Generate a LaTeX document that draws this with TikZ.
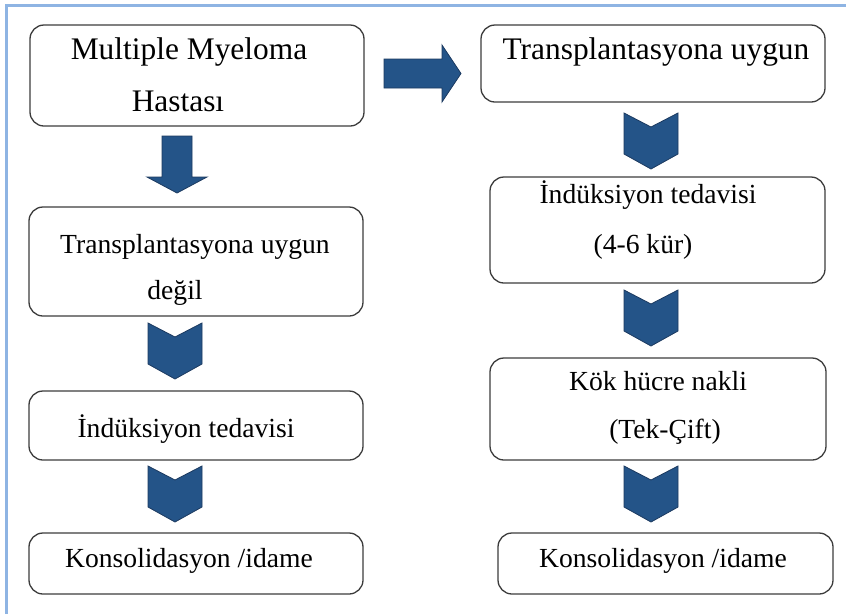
\documentclass[tikz,border=0pt]{standalone}
\usepackage{fontspec}
\setmainfont{Liberation Serif}
\definecolor{arrowblue}{RGB}{36,84,136}
\definecolor{arrowedge}{RGB}{28,58,96}
\definecolor{boxgray}{RGB}{60,60,60}
\definecolor{frameblue}{RGB}{142,180,227}
\newcommand\mychev[2]{%
  \draw[blockarrow] (#1-27,#2) -- (#1,#2+14) -- (#1+27,#2) -- (#1+27,#2+41)
    -- (#1,#2+56) -- (#1-27,#2+41) -- cycle;}
\begin{document}
\begin{tikzpicture}[x=1pt,y=-1pt,
  box/.style={draw=boxgray, line width=1.3pt, rounded corners=14pt, fill=white, inner sep=0pt},
  txt/.style={anchor=base, inner sep=0pt, font=\fontsize{27.6}{33}\selectfont},
  big/.style={anchor=base, inner sep=0pt, font=\fontsize{31.4}{37}\selectfont},
  blockarrow/.style={fill=arrowblue, draw=arrowedge, line width=0.8pt, line join=miter}]
\useasboundingbox (0,0) rectangle (846,614);
\fill[white] (0,0) rectangle (846,614);
% frame
\draw[frameblue, line width=3pt] (6,614) -- (6,5) -- (846,5);
% boxes
\node[box, minimum width=334pt, minimum height=101pt] (A) at (197,75.5) {};
\node[box, minimum width=344pt, minimum height=77pt] (B) at (653,63.5) {};
\node[box, minimum width=334pt, minimum height=109pt] (C) at (196,261.5) {};
\node[box, minimum width=334pt, minimum height=69pt] (D) at (196,425.5) {};
\node[box, minimum width=334pt, minimum height=61pt] (E) at (196,563.5) {};
\node[box, minimum width=335pt, minimum height=106pt] (F) at (657.5,230) {};
\node[box, minimum width=336pt, minimum height=102pt] (G) at (658,409) {};
\node[box, minimum width=335pt, minimum height=61pt] (H) at (665.5,563.5) {};
% texts
\node[big] (a1) at (189,59) {Multiple Myeloma};
\node[big] (a2) at (178,111) {Hastası};
\node[big] (b1) at (656,59) {Transplantasyona uygun};
\node[txt] (c1) at (195,253) {Transplantasyona uygun};
\node[txt] (c2) at (175,299) {değil};
\node[txt] (d1) at (186,437) {İndüksiyon tedavisi};
\node[txt] (e1) at (189,567) {Konsolidasyon /idame};
\node[txt] (f1) at (648,203) {İndüksiyon tedavisi};
\node[txt] (f2) at (643,253) {(4-6 kür)};
\node[txt] (g1) at (658,390) {Kök hücre nakli};
\node[txt] (g2) at (665,438) {(Tek-Çift)};
\node[txt] (h1) at (663,567) {Konsolidasyon /idame};
% block arrows
\draw[blockarrow] (384,59) -- (442,59) -- (442,45) -- (461,73.5) -- (442,102)
  -- (442,88) -- (384,88) -- cycle;
\draw[blockarrow] (162,136) -- (192,136) -- (192,177) -- (207,177) -- (177,193)
  -- (147,177) -- (162,177) -- cycle;
\mychev{175}{323}
\mychev{175}{466}
\mychev{651}{113}
\mychev{651}{290}
\mychev{651}{466}
\end{tikzpicture}
\end{document}
